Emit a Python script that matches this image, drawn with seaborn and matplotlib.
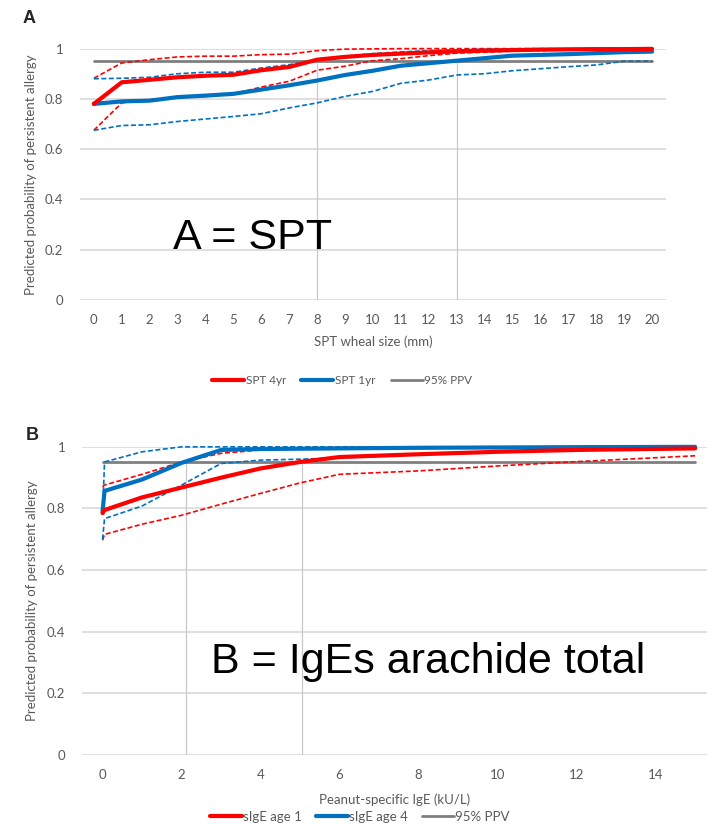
import seaborn as sns
import pandas as pd
import matplotlib.pyplot as plt
from matplotlib.lines import Line2D

# panel A data: SPT wheal size (mm)
spt_x = list(range(0, 21))
spt_4yr = [0.78, 0.866, 0.876, 0.886, 0.892, 0.896, 0.914, 0.927, 0.956, 0.967, 0.975,
           0.98, 0.985, 0.989, 0.992, 0.994, 0.996, 0.997, 0.998, 0.998, 0.999]
spt_4yr_hi = [0.882, 0.943, 0.956, 0.967, 0.97, 0.97, 0.976, 0.978, 0.992, 0.998, 0.999,
              1.0, 1.0, 1.0, 1.0, 1.0, 1.0, 1.0, 1.0, 1.0, 1.0]
spt_4yr_lo = [0.675, 0.784, 0.797, 0.804, 0.81, 0.82, 0.847, 0.87, 0.914, 0.93, 0.952,
              0.96, 0.972, 0.982, 0.986, 0.99, 0.992, 0.994, 0.995, 0.996, 0.997]
spt_1yr = [0.78, 0.79, 0.793, 0.807, 0.813, 0.82, 0.837, 0.854, 0.873, 0.895, 0.912,
           0.932, 0.942, 0.952, 0.962, 0.972, 0.975, 0.978, 0.982, 0.986, 0.988]
spt_1yr_hi = [0.88, 0.882, 0.886, 0.9, 0.906, 0.906, 0.923, 0.936, 0.956, 0.97, 0.98,
              0.987, 0.992, 0.995, 0.997, 0.998, 0.999, 1.0, 1.0, 1.0, 1.0]
spt_1yr_lo = [0.675, 0.694, 0.697, 0.71, 0.72, 0.73, 0.741, 0.764, 0.784, 0.81, 0.83,
              0.862, 0.875, 0.895, 0.9, 0.912, 0.92, 0.928, 0.935, 0.95, 0.95]
spt_cutoffs = [8, 13]

# panel B data: peanut-specific IgE (kU/L)
ige_x = [0, 0.05, 1, 2, 3, 4, 5, 6, 8, 10, 12, 15]
age1 = [0.785, 0.795, 0.836, 0.868, 0.9, 0.93, 0.951, 0.967, 0.976, 0.984, 0.99, 0.995]
age1_hi = [0.87, 0.876, 0.911, 0.951, 0.979, 0.99, 0.996, 0.998, 1.0, 1.0, 1.0, 1.0]
age1_lo = [0.697, 0.716, 0.749, 0.778, 0.814, 0.849, 0.883, 0.911, 0.922, 0.938, 0.952, 0.971]
age4 = [0.79, 0.857, 0.894, 0.948, 0.99, 0.993, 0.994, 0.995, 0.997, 0.998, 0.999, 1.0]
age4_hi = [0.78, 0.951, 0.984, 1.0, 1.0, 1.0, 1.0, 1.0, 1.0, 1.0, 1.0, 1.0]
age4_lo = [0.70, 0.767, 0.808, 0.876, 0.946, 0.957, 0.96, 0.964, 0.975, 0.986, 0.99, 0.995]
ige_cutoffs = [2.1, 5.05]

ppv = 0.95
yticks = [0, 0.2, 0.4, 0.6, 0.8, 1.0]
ytick_labels = ['0', '0.2', '0.4', '0.6', '0.8', '1']

RED = '#ff0000'
BLUE = '#0070c0'
GREY = '#7f7f7f'
TXT = '#595959'

sns.set_theme(style='white')
plt.rcParams['font.family'] = ['Lato', 'DejaVu Sans']

fig = plt.figure(figsize=(7.07, 8.24), dpi=100)
ax_a = fig.add_axes([0.113, 0.636, 0.829, 0.305])
ax_b = fig.add_axes([0.116, 0.0837, 0.884, 0.374])


def draw_panel(ax, x, main1, hi1, lo1, main2, hi2, lo2, cutoffs):
    for c in cutoffs:
        ax.plot([c, c], [0, ppv], color='#c8c8c8', lw=0.9, zorder=1)
    for s, col in [(hi1, RED), (lo1, RED), (hi2, BLUE), (lo2, BLUE)]:
        sns.lineplot(x=x, y=s, ax=ax, color=col, lw=1.2, dashes=False,
                     linestyle=(0, (3, 1.5)), zorder=3, clip_on=False)
    sns.lineplot(x=[x[0], x[-1]], y=[ppv, ppv], ax=ax, color=GREY, lw=2.0, zorder=2, clip_on=False)
    sns.lineplot(x=x, y=main2, ax=ax, color=BLUE, lw=3.0, zorder=4, clip_on=False)
    sns.lineplot(x=x, y=main1, ax=ax, color=RED, lw=3.0, zorder=5, clip_on=False)
    ax.set_ylim(0, 1)
    ax.set_yticks(yticks)
    ax.set_yticklabels(ytick_labels)
    ax.grid(axis='y', color='#d9d9d9', lw=1.2)
    ax.grid(axis='x', visible=False)
    sns.despine(ax=ax, left=True, bottom=True)
    ax.tick_params(axis='both', length=0, labelsize=9.5, labelcolor=TXT)
    ax.tick_params(axis='y', pad=12)
    ax.tick_params(axis='x', pad=10)
    ax.set_ylabel('Predicted probability of persistent allergy', color=TXT, fontsize=9.5)
    ax.yaxis.set_label_coords(-0.073, 0.5)


# panel A
draw_panel(ax_a, spt_x, spt_4yr, spt_4yr_hi, spt_4yr_lo,
           spt_1yr, spt_1yr_hi, spt_1yr_lo, spt_cutoffs)
ax_a.set_xlim(-0.5, 20.5)
ax_a.set_xticks(spt_x)
ax_a.set_xlabel('SPT wheal size (mm)', color=TXT, fontsize=9.5, labelpad=7)
ax_a.text(2.85, 0.203, 'A = SPT', fontsize=31, family='Liberation Sans', color='black')

# panel B
draw_panel(ax_b, ige_x, age1, age1_hi, age1_lo,
           age4, age4_hi, age4_lo, ige_cutoffs)
ax_b.set_xlim(-0.52, 15.3)
ax_b.set_xticks([0, 2, 4, 6, 8, 10, 12, 14])
ax_b.set_xlabel('Peanut-specific IgE (kU/L)', color=TXT, fontsize=9.5, labelpad=9)
ax_b.yaxis.set_label_coords(-0.07, 0.5)
ax_b.text(13.74, 0.267, 'B = IgEs arachide total', fontsize=31, family='Liberation Sans',
          color='black', ha='right')

# panel letters
fig.text(0.032, 0.978, 'A', fontsize=13, fontweight='bold', family='Liberation Sans', va='center')
fig.text(0.036, 0.471, 'B', fontsize=13, fontweight='bold', family='Liberation Sans', va='center')

# legends
def legend_handles(n1, n2):
    return [Line2D([], [], color=RED, lw=3, label=n1),
            Line2D([], [], color=BLUE, lw=3, label=n2),
            Line2D([], [], color=GREY, lw=2, label='95% PPV')]

fig.legend(handles=legend_handles('SPT 4yr', 'SPT 1yr'), loc='center', bbox_to_anchor=(0.484, 0.538),
           ncol=3, frameon=False, fontsize=8.5, labelcolor=TXT, handlelength=2.7,
           handletextpad=0.15, columnspacing=1.3)
fig.legend(handles=legend_handles('sIgE age 1', 'sIgE age 4'), loc='center', bbox_to_anchor=(0.509, 0.0089),
           ncol=3, frameon=False, fontsize=9.5, labelcolor=TXT, handlelength=2.4,
           handletextpad=0.1, columnspacing=1.05)

plt.savefig('out.png', dpi=100)
